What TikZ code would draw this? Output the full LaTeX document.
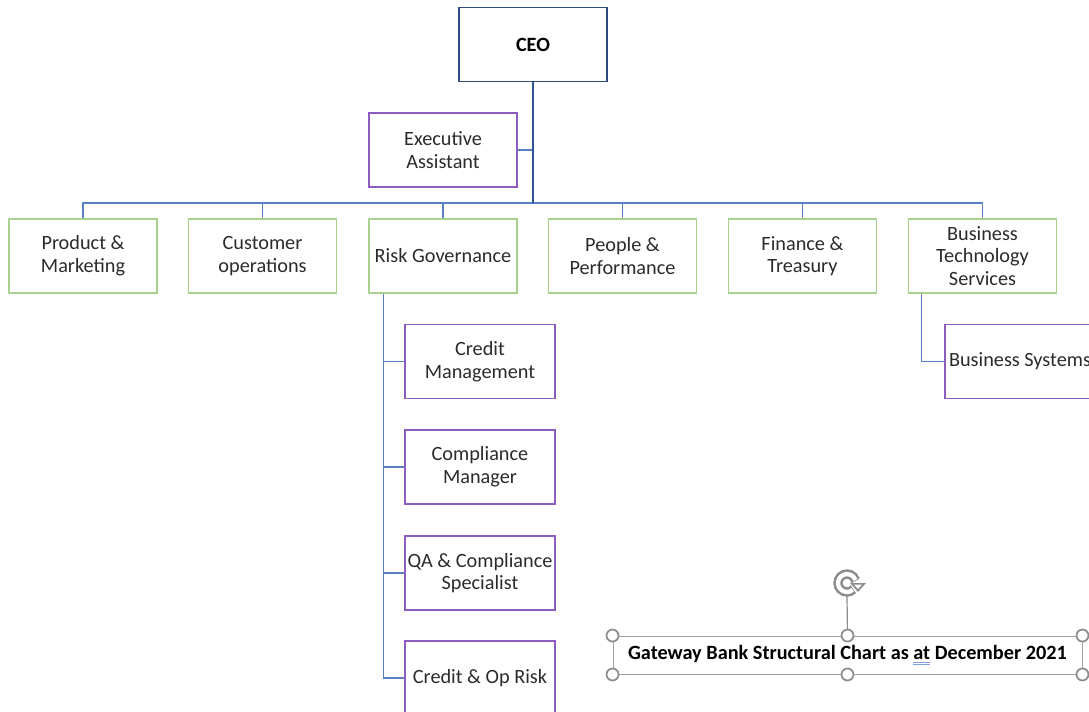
\documentclass[tikz,border=0pt]{standalone}
\usepackage{fontspec}
\setmainfont{Carlito}
\usetikzlibrary{calc}
\definecolor{ceoline}{HTML}{2F4A7F}
\definecolor{purp}{HTML}{8E5CBE}
\definecolor{grn}{HTML}{A9D18E}
\definecolor{linkblue}{HTML}{5B7FC4}
\definecolor{trunkblue}{HTML}{2F5597}
\definecolor{txt}{HTML}{2B2B2B}
\definecolor{handle}{HTML}{8C8C8C}
\definecolor{gramblue}{HTML}{7F9FE0}
% double underline used by the grammar marker
\newcommand\gramat[1]{\setbox0\hbox{#1}\rlap{\color{gramblue}\rule[-2.6pt]{\wd0}{0.5pt}}\rlap{\color{gramblue}\rule[-4.1pt]{\wd0}{0.5pt}}\box0\relax}
\begin{document}
\begin{tikzpicture}[x=0.75pt,y=-0.75pt,
  box/.style={draw,line width=0.9pt,minimum width=111pt,minimum height=55.5pt,
    align=center,inner sep=1pt,text=txt,font=\fontsize{15.2}{17}\selectfont},
  ceobox/.style={box,draw=ceoline,text=black,font=\fontsize{15.2}{17}\selectfont\bfseries},
  greenbox/.style={box,draw=grn},
  purplebox/.style={box,draw=purp,minimum width=112.5pt},
  link/.style={draw=linkblue,line width=0.8pt},
  trunk/.style={draw=trunkblue,line width=1.5pt},
  handlecirc/.style={circle,draw=handle,fill=white,line width=1.3pt,minimum size=9pt,inner sep=0pt},
  titlebox/.style={draw=handle!80,line width=0.7pt,minimum width=351.75pt,minimum height=28.5pt,
    inner sep=0pt,font=\fontsize{15.2}{17}\selectfont\bfseries}
]
\useasboundingbox (0,0) rectangle (1089,711);
\begin{scope}
\clip (0,0) rectangle (1089,711);

% top level
\node[ceobox] (ceo) at (533,44.5) {CEO};
\node[purplebox,minimum width=111pt] (ea) at (443,150) {Executive\\Assistant};

% departments
\node[greenbox] (prod) at (83,256) {Product \&\\Marketing};
\node[greenbox] (cust) at (262.5,256) {Customer\\operations};
\node[greenbox] (rg)   at (443,256) {Risk Governance};
\node[greenbox] (ppl)  at (622.5,256) {People \&\\Performance};
\node[greenbox] (fin)  at (802.5,256) {Finance \&\\Treasury};
\node[greenbox] (bts)  at (982.5,256) {Business\\Technology\\Services};

% risk governance teams
\node[purplebox] (cm)  at (480,361.5) {Credit\\Management};
\node[purplebox] (cmp) at (480,467) {Compliance\\Manager};
\node[purplebox] (qa)  at (480,573) {QA \& Compliance\\Specialist};
\node[purplebox] (cor) at (480,678) {Credit \& Op Risk};

% technology team
\node[purplebox] (bsys) at (1020,361.5) {Business Systems};

% connectors
\coordinate (bus) at (533,203);
\path[link] (ea.east) -- (ea.east -| ceo.south);
\path[link] (bus) -| (prod.north);
\path[link] (bus) -| (cust.north);
\path[link] (bus) -| (rg.north);
\path[link] (bus) -| (ppl.north);
\path[link] (bus) -| (fin.north);
\path[link] (bus) -| (bts.north);
\path[trunk] (ceo.south) -- (bus);

\coordinate (rgspine) at ($(rg.south west)+(15,0)$);
\path[link] (rgspine) |- (cm.west);
\path[link] (rgspine) |- (cmp.west);
\path[link] (rgspine) |- (qa.west);
\path[link] (rgspine) |- (cor.west);

\coordinate (btsspine) at ($(bts.south west)+(14,0)$);
\path[link] (btsspine) |- (bsys.west);

% caption text box with its selection handles
\node[titlebox] (title) at (847.5,655)
  {Gateway Bank Structural Chart as \gramat{at} December 2021};
\coordinate (rot) at (847,583);
\draw[handle,line width=0.9pt] (title.north) -- ($(rot)+(0,13)$);
\foreach \a in {north west,north,north east,south west,south,south east}
  \node[handlecirc] at (title.\a) {};
% rotation handle: outlined circular arrow
\draw[handle,line width=7pt] ($(rot)+(45:9)$) arc[start angle=45,end angle=345,radius=9];
\draw[white,line width=3.2pt] ($(rot)+(50:9)$) arc[start angle=50,end angle=340,radius=9];
\fill[handle] ($(rot)+(3,0)$) -- ($(rot)+(19,0)$) -- ($(rot)+(11,9)$) -- cycle;
\fill[white] ($(rot)+(7,1.6)$) -- ($(rot)+(15,1.6)$) -- ($(rot)+(11,6)$) -- cycle;
\end{scope}
\end{tikzpicture}
\end{document}
